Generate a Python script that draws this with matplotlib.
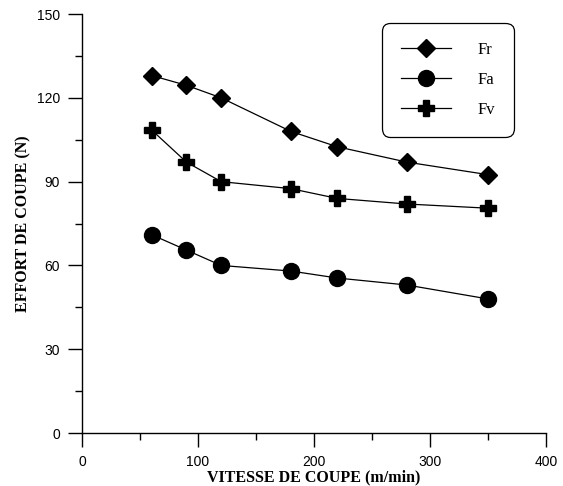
import matplotlib.pyplot as plt
from matplotlib.ticker import MultipleLocator

vitesse = [60, 90, 120, 180, 220, 280, 350]
fr = [128, 124.5, 120, 108, 102.5, 97, 92.5]
fa = [71, 65.5, 60, 58, 55.5, 53, 48]
fv = [108.5, 97, 90, 87.5, 84, 82, 80.5]

fig = plt.figure(figsize=(5.63, 4.86), dpi=100)
ax = fig.add_axes([0.1457, 0.109, 0.8243, 0.862])

ax.plot(vitesse, fr, color='black', lw=0.9, marker='D', ms=9, label='Fr')
ax.plot(vitesse, fa, color='black', lw=0.9, marker='o', ms=11.5, label='Fa')
ax.plot(vitesse, fv, color='black', lw=0.9, marker='P', ms=11, label='Fv')

ax.set_xlim(0, 400)
ax.set_ylim(0, 150)
ax.xaxis.set_major_locator(MultipleLocator(100))
ax.xaxis.set_minor_locator(MultipleLocator(50))
ax.yaxis.set_major_locator(MultipleLocator(30))
ax.yaxis.set_minor_locator(MultipleLocator(15))

for s in ['top', 'right']:
    ax.spines[s].set_visible(False)
ax.spines['left'].set_linewidth(1)
ax.spines['bottom'].set_linewidth(1)

ax.tick_params(which='major', direction='out', length=10, width=1, labelsize=10)
ax.tick_params(which='minor', direction='out', length=5, width=1)
ax.tick_params(axis='y', which='major', pad=6)
ax.tick_params(axis='x', which='major', pad=6)
for lab in ax.get_xticklabels() + ax.get_yticklabels():
    lab.set_fontfamily('Liberation Sans')

ax.set_xlabel('VITESSE DE COUPE (m/min)', fontfamily='Liberation Serif',
              fontweight='bold', fontsize=11.5, labelpad=0)
ax.set_ylabel('EFFORT DE COUPE (N)', fontfamily='Liberation Serif',
              fontweight='bold', fontsize=11.5, labelpad=4)

leg = ax.legend(loc='upper right', bbox_to_anchor=(0.93, 0.979),
                prop={'family': 'Liberation Serif', 'size': 12},
                fancybox=True, framealpha=1, edgecolor='black',
                handlelength=3.0, labelspacing=0.85, borderpad=1.12,
                handletextpad=1.6, borderaxespad=0)
leg.get_frame().set_linewidth(0.9)
leg.get_frame().set_boxstyle('round', pad=0, rounding_size=0.5)

fig.savefig('out.png', dpi=100)
